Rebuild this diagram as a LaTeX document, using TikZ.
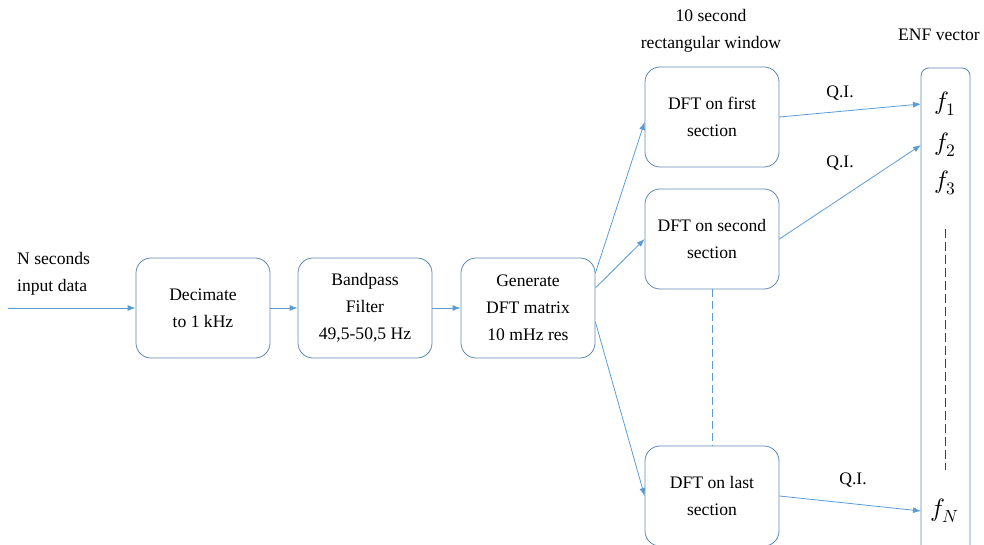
\documentclass[tikz,border=0pt]{standalone}
\usepackage{fontspec}
\usepackage{unicode-math}
\setmainfont{Liberation Serif}
\setmathfont{Latin Modern Math}
\usepackage{tikz}
\usetikzlibrary{arrows.meta}

\definecolor{boxline}{RGB}{95,135,180}
\definecolor{arrline}{RGB}{91,155,213}

\begin{document}
\begin{tikzpicture}[x=1pt,y=1pt,
  every node/.style={font=\rmfamily\fontsize{17.6}{27}\selectfont, inner sep=0pt, align=center},
  blk/.style={draw=boxline, line width=0.8pt, rounded corners=15pt, minimum width=134pt, minimum height=100pt},
  flow/.style={draw=arrline, line width=0.8pt, -{Latex[length=8pt,width=6pt]}},
  fval/.style={font=\fontsize{25}{27}\selectfont}]
\useasboundingbox (0,0) rectangle (984,-545);
% processing chain
\node [anchor=west, align=left] (inlbl) at (17,-274) {N seconds\\input data};
\coordinate (inpt) at (8,-308);
\node [blk] (dec) at (203,-308) {Decimate\\to 1 kHz};
\node [blk] (bp) at (365,-308) {Bandpass\\Filter\\49,5-50,5 Hz};
\node [blk] (gen) at (528,-308) {Generate\\DFT matrix\\10 mHz res};
% sections
\node (winlbl) at (711,-31) {10 second\\rectangular window};
\node [blk] (first) at (712,-117) {DFT on first\\section};
\node [blk] (second) at (712,-239) {DFT on second\\section};
\node [blk] (last) at (712,-496) {DFT on last\\section};
% ENF vector
\node (enflbl) at (939,-35) {ENF vector};
\draw [boxline, line width=0.8pt, rounded corners=8pt] (921,-560) -- (921,-68) -- (970,-68) -- (970,-560);
\coordinate (enfw) at (921,-300);
\node [fval] (f1) at (945,-104) {$f_1$};
\node [fval] (f2) at (945,-145) {$f_2$};
\node [fval] (f3) at (945,-183) {$f_3$};
\node [fval] (fN) at (945,-511) {$f_N$};
\coordinate (dtop) at (945,-229);
\coordinate (dbot) at (945,-470);
\draw [black!75, dash pattern=on 9pt off 4pt, line width=0.8pt] (dtop) -- (dbot);
% arrows
\draw [flow] (inpt) -- (dec.west);
\draw [flow] (dec) -- (bp);
\draw [flow] (bp) -- (gen);
\draw [flow] ([yshift=35pt]gen.east) -- ([yshift=-5pt]first.west);
\draw [flow] ([yshift=20pt]gen.east) -- (second.west);
\draw [flow] ([yshift=-14pt]gen.east) -- (last.west);
\draw [arrline, dash pattern=on 8pt off 4pt, line width=0.8pt] (second.south) -- (last.north);
\draw [flow] (first.east) -- (f1 -| enfw);
\draw [flow] (second.east) -- (f2 -| enfw);
\draw [flow] (last.east) -- (fN -| enfw);
\node (qi1) at (840,-93) {Q.I.};
\node (qi2) at (840,-163) {Q.I.};
\node (qi3) at (853,-480) {Q.I.};
\end{tikzpicture}
\end{document}
